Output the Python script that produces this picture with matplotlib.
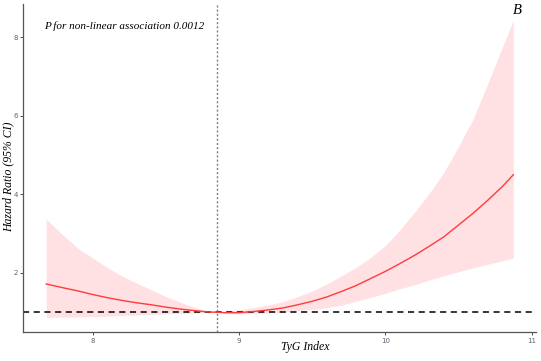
import matplotlib
matplotlib.use("Agg")
import matplotlib.pyplot as plt

# Data
tyg = [7.68, 7.8, 7.9, 8.0, 8.1, 8.2, 8.3, 8.4, 8.5, 8.6, 8.7, 8.78, 8.845, 8.9,
       9.0, 9.1, 9.2, 9.3, 9.4, 9.5, 9.6, 9.7, 9.8, 9.9, 10.0, 10.1, 10.2, 10.3,
       10.4, 10.5, 10.6, 10.7, 10.8, 10.875]
hr = [1.72, 1.62, 1.54, 1.45, 1.37, 1.30, 1.24, 1.19, 1.13, 1.08, 1.04, 1.01, 1.00, 0.99,
      0.99, 1.02, 1.06, 1.11, 1.19, 1.28, 1.39, 1.53, 1.68, 1.86, 2.04, 2.24, 2.45, 2.68,
      2.92, 3.22, 3.52, 3.85, 4.20, 4.50]
upper = [3.37, 2.95, 2.62, 2.38, 2.13, 1.92, 1.74, 1.57, 1.40, 1.25, 1.12, 1.04, 1.00, 1.02,
         1.06, 1.12, 1.19, 1.27, 1.40, 1.54, 1.72, 1.93, 2.14, 2.40, 2.70, 3.10, 3.55, 4.03,
         4.56, 5.22, 5.92, 6.82, 7.75, 8.43]
lower = [0.87, 0.875, 0.88, 0.89, 0.90, 0.915, 0.93, 0.945, 0.96, 0.97, 0.98, 0.99, 1.00, 0.98,
         0.96, 0.97, 0.98, 1.00, 1.04, 1.07, 1.12, 1.18, 1.28, 1.38, 1.48, 1.60, 1.70, 1.82,
         1.93, 2.03, 2.13, 2.22, 2.31, 2.38]
ref_value = 8.845
x_ticks = [8, 9, 10, 11]
y_ticks = [2, 4, 6, 8]
p_text = "P for non-linear association 0.0012"
panel = "B"

plt.rcParams['font.family'] = ['Liberation Serif', 'DejaVu Serif']

fig = plt.figure(figsize=(5.41, 3.61), dpi=100)
ax = fig.add_axes([0.0434, 0.0795, 0.9466, 0.9095])

ax.fill_between(tyg, lower, upper, color='#ffe1e3', linewidth=0, zorder=1)
ax.plot(tyg, hr, color='#ff3b3b', linewidth=1.0, zorder=3)
ax.axhline(1, color='black', linestyle=(0, (4, 3)), linewidth=1.1, zorder=2)
ax.axvline(ref_value, color='#7f7f7f', linestyle=(0, (1.5, 1.5)), linewidth=1.0, zorder=2)

ax.set_xlim(7.525, 11.027)
ax.set_ylim(0.49, 8.845)
ax.set_xticks(x_ticks)
ax.set_yticks(y_ticks)
ax.set_xticklabels([str(v) for v in x_ticks], family='DejaVu Sans')
ax.set_yticklabels([str(v) for v in y_ticks], family='DejaVu Sans')
ax.tick_params(axis='both', labelsize=5, colors='#5a6470', length=2.5, width=0.6, pad=1.5)
ax.tick_params(axis='both', color='#333333')

for s in ['top', 'right']:
    ax.spines[s].set_visible(False)
for s in ['left', 'bottom']:
    ax.spines[s].set_color('#555555')
    ax.spines[s].set_linewidth(0.9)

ax.set_xlabel('TyG Index', fontstyle='italic', fontsize=8.5, va='center')
ax.set_ylabel('Hazard Ratio (95% CI)', fontstyle='italic', fontsize=8.5, va='center')
ax.xaxis.set_label_coords(0.5496, -0.045)
ax.yaxis.set_label_coords(-0.0293, 0.473)

fig.text(44 / 541, 1 - 26 / 361, p_text, fontstyle='italic', fontsize=8,
         ha='left', va='center')
fig.text(517 / 541, 1 - 11 / 361, panel, fontstyle='italic', fontsize=10.5,
         ha='center', va='center')

fig.savefig('out.png', dpi=100)
